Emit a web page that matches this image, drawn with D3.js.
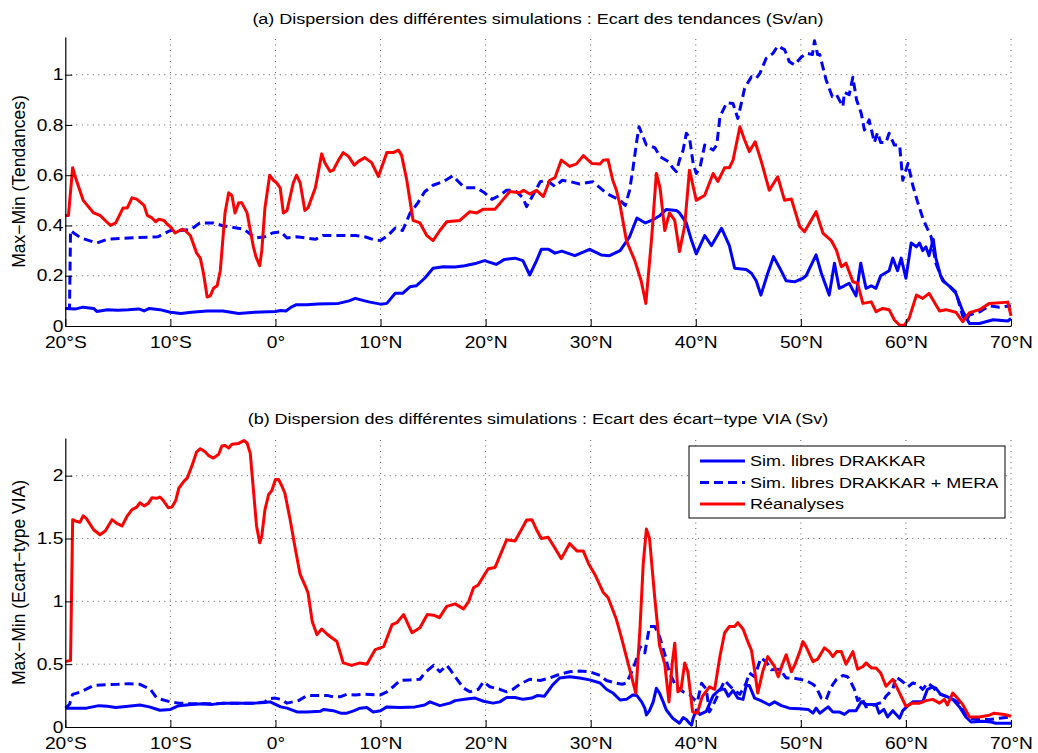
<!DOCTYPE html>
<html><head><meta charset="utf-8">
<script src="https://cdn.jsdelivr.net/npm/d3@7"></script>
<style>
html,body{margin:0;padding:0;background:#fff;}
text{font-family:"Liberation Sans",Arial,Helvetica,sans-serif;fill:#000;}
</style></head>
<body><svg id="c" width="1038" height="753"></svg>
<script>
// ---------- DATA ----------
const xTicks = [-20,-10,0,10,20,30,40,50,60,70];
const xTickLabels = ["20°S","10°S","0°","10°N","20°N","30°N","40°N","50°N","60°N","70°N"];
const yTicksA = [0,0.2,0.4,0.6,0.8,1];
const yTickLabelsA = ["0","0.2","0.4","0.6","0.8","1"];
const yTicksB = [0,0.5,1,1.5,2];
const yTickLabelsB = ["0","0.5","1","1.5","2"];
const seriesNames = ["Sim. libres DRAKKAR","Sim. libres DRAKKAR + MERA","Réanalyses"];
const titleA = "(a) Dispersion des différentes simulations : Ecart des tendances (Sv/an)";
const titleB = "(b) Dispersion des différentes simulations : Ecart des écart\u2212type VIA (Sv)";
const ylabelA = "Max\u2212Min (Tendances)";
const ylabelB = "Max\u2212Min (Ecart\u2212type VIA)";

// panel (a): [latitude, value]
const tendDrakkar = [[-20,0.07],[-19,0.068],[-18.3,0.075],[-17.3,0.07],[-17,0.058],[-16,0.065],[-15,0.063],[-14,0.065],[-13,0.068],[-12.5,0.06],[-12,0.07],[-11,0.065],[-10,0.055],[-9,0.05],[-8,0.055],[-6.5,0.06],[-5,0.06],[-3.5,0.05],[-2,0.055],[0,0.058],[0.5,0.062],[1,0.06],[1.5,0.075],[2,0.085],[3,0.085],[4,0.088],[6,0.09],[7,0.1],[7.6,0.11],[8.5,0.1],[9,0.095],[10,0.087],[10.6,0.09],[11.4,0.13],[12.1,0.13],[12.8,0.156],[13.4,0.16],[14.2,0.19],[15,0.23],[16,0.236],[17.1,0.235],[18,0.24],[19.15,0.25],[19.9,0.26],[21,0.245],[21.8,0.265],[22.8,0.27],[23.55,0.26],[24.2,0.203],[24.85,0.26],[25.3,0.305],[26,0.305],[26.6,0.29],[27.25,0.298],[28.5,0.28],[29.9,0.305],[31,0.283],[31.8,0.28],[32.8,0.3],[33.7,0.355],[34.4,0.43],[35.2,0.41],[35.8,0.42],[36.6,0.44],[37.2,0.464],[38.15,0.46],[38.45,0.45],[39.1,0.41],[39.6,0.34],[40.05,0.287],[40.85,0.36],[41.5,0.32],[42.45,0.389],[43.2,0.32],[43.7,0.23],[44.8,0.225],[45.3,0.21],[45.75,0.18],[46.2,0.123],[46.85,0.21],[47.4,0.276],[48,0.23],[48.6,0.18],[49.4,0.176],[50.2,0.19],[50.5,0.2],[51.45,0.283],[51.95,0.21],[52.7,0.123],[53.2,0.25],[53.65,0.15],[54.15,0.16],[54.6,0.17],[55.25,0.12],[55.7,0.25],[56.2,0.15],[56.7,0.16],[57.15,0.15],[57.6,0.2],[58.4,0.22],[58.75,0.27],[59.2,0.22],[59.55,0.27],[60,0.19],[60.5,0.33],[61,0.315],[61.3,0.33],[61.6,0.3],[61.9,0.315],[62.2,0.28],[62.6,0.345],[62.85,0.27],[63.3,0.2],[63.65,0.176],[64.1,0.16],[64.75,0.13],[65.4,0.06],[66.05,0.01],[67,0.01],[68.3,0.025],[69.7,0.02],[70,0.03]];
const tendMera = [[-20,0.07],[-19.6,0.07],[-19.5,0.38],[-19.2,0.37],[-18.5,0.35],[-17,0.33],[-16,0.345],[-14,0.35],[-11.2,0.355],[-10,0.38],[-9,0.38],[-8,0.385],[-7.2,0.41],[-5.9,0.41],[-5.1,0.4],[-3.7,0.39],[-3,0.385],[-1.9,0.35],[-1,0.355],[-0.3,0.37],[0.5,0.375],[1.1,0.35],[2,0.355],[3,0.35],[3.8,0.345],[4.5,0.36],[6,0.36],[7.6,0.36],[8.5,0.355],[9.45,0.342],[10,0.34],[10.7,0.36],[11.4,0.39],[12.1,0.38],[12.8,0.448],[13.55,0.49],[14.2,0.534],[15,0.56],[16,0.575],[16.9,0.598],[17.4,0.575],[18,0.55],[19.15,0.55],[19.9,0.53],[20.6,0.504],[21.35,0.52],[22,0.54],[22.8,0.54],[23.55,0.51],[23.9,0.475],[24.5,0.52],[25.2,0.574],[25.8,0.58],[26.6,0.555],[27.3,0.58],[28,0.575],[28.95,0.565],[30.2,0.574],[31.5,0.528],[32.8,0.5],[33.3,0.48],[33.7,0.54],[34,0.62],[34.4,0.74],[34.6,0.793],[35.3,0.72],[36.1,0.71],[36.6,0.674],[37.4,0.654],[37.8,0.63],[38.15,0.614],[38.45,0.66],[38.8,0.7],[39.1,0.767],[39.4,0.75],[39.75,0.647],[40.05,0.607],[40.4,0.63],[40.85,0.72],[41.65,0.7],[42,0.72],[42.3,0.833],[42.95,0.889],[43.55,0.885],[44,0.826],[44.3,0.88],[44.65,0.946],[45.3,0.992],[45.75,0.985],[46.1,1.005],[46.7,1.065],[47.35,1.085],[47.8,1.114],[48.45,1.1],[48.9,1.052],[49.4,1.039],[50.05,1.07],[50.6,1.085],[51.1,1.08],[51.3,1.135],[51.6,1.08],[51.8,1.08],[52.4,0.98],[53,0.912],[53.4,0.92],[54,0.873],[54.15,0.93],[54.6,0.92],[54.95,0.99],[55.3,0.9],[55.75,0.846],[56.05,0.78],[56.5,0.82],[57,0.73],[57.3,0.77],[57.6,0.73],[58.1,0.73],[58.4,0.767],[58.9,0.72],[59.4,0.72],[59.7,0.58],[60.2,0.647],[60.65,0.56],[61.1,0.495],[61.6,0.43],[61.9,0.4],[62.4,0.355],[62.85,0.25],[63.5,0.18],[64.1,0.16],[64.75,0.136],[65.4,0.04],[65.7,0.02],[66.05,0.044],[67,0.056],[67.95,0.08],[68.9,0.075],[69.85,0.08],[70,0.08]];
const tendReana = [[-20,0.44],[-19.7,0.44],[-19.3,0.63],[-19.1,0.6],[-18.3,0.5],[-17.3,0.45],[-16.7,0.44],[-15.7,0.4],[-15.2,0.41],[-14.5,0.47],[-14.1,0.47],[-13.65,0.51],[-13.2,0.505],[-12.5,0.48],[-12.2,0.44],[-11.75,0.43],[-11.4,0.415],[-11.1,0.425],[-10.6,0.42],[-10.3,0.405],[-10,0.395],[-9.55,0.37],[-8.9,0.385],[-8.6,0.38],[-8.1,0.36],[-7.5,0.29],[-7.15,0.27],[-6.85,0.21],[-6.5,0.115],[-6.2,0.12],[-5.9,0.15],[-5.55,0.16],[-5.25,0.22],[-4.8,0.45],[-4.45,0.53],[-4.15,0.52],[-3.85,0.45],[-3.5,0.49],[-3.2,0.49],[-2.7,0.45],[-2.1,0.315],[-1.85,0.275],[-1.5,0.24],[-1.3,0.3],[-1,0.47],[-0.55,0.6],[-0.2,0.58],[0.1,0.57],[0.45,0.55],[0.75,0.45],[1.1,0.46],[1.7,0.57],[2,0.6],[2.35,0.57],[2.8,0.46],[3.1,0.47],[3.8,0.55],[4.4,0.685],[4.7,0.65],[5.2,0.615],[5.5,0.62],[6,0.66],[6.45,0.69],[6.95,0.675],[7.5,0.64],[7.9,0.655],[8.5,0.67],[9.15,0.65],[9.8,0.595],[10.6,0.69],[11.2,0.69],[11.7,0.7],[12,0.68],[12.5,0.58],[13.1,0.42],[13.75,0.41],[14.4,0.36],[15,0.34],[15.65,0.38],[16.3,0.415],[17.55,0.42],[18.5,0.455],[19.15,0.45],[19.8,0.465],[20.9,0.465],[21.7,0.505],[22.3,0.535],[23.25,0.53],[23.6,0.54],[24.2,0.525],[24.85,0.54],[25.5,0.515],[26.1,0.58],[26.6,0.59],[27.2,0.66],[28,0.635],[28.65,0.645],[29.3,0.678],[30.1,0.647],[30.9,0.645],[31.2,0.66],[31.65,0.662],[32.1,0.58],[32.45,0.54],[32.8,0.48],[33.4,0.34],[34.2,0.26],[34.8,0.18],[35.25,0.09],[35.8,0.35],[36.25,0.607],[36.6,0.55],[37.05,0.38],[37.5,0.45],[38,0.42],[38.45,0.296],[38.95,0.4],[39.4,0.62],[40.05,0.5],[40.85,0.52],[41.65,0.607],[42.1,0.575],[42.75,0.63],[43.2,0.63],[43.55,0.66],[44.2,0.793],[44.65,0.74],[45.1,0.694],[45.65,0.733],[46.2,0.66],[47,0.54],[47.8,0.594],[48.45,0.5],[49.1,0.505],[49.9,0.395],[50.35,0.375],[51.45,0.455],[52.1,0.37],[52.9,0.34],[53.4,0.3],[53.85,0.236],[54.3,0.25],[54.95,0.176],[55.4,0.17],[55.9,0.09],[56.7,0.096],[57.15,0.057],[57.8,0.07],[58.4,0.065],[58.9,0.024],[59.4,0.003],[59.85,0.003],[60.3,0.03],[61,0.123],[61.6,0.11],[62.2,0.13],[63.2,0.06],[63.8,0.065],[64.75,0.055],[65.4,0.017],[66.05,0.053],[67,0.065],[67.95,0.09],[69.7,0.095],[70,0.04]];

// panel (b): [latitude, value]
const sdDrakkar = [[-20,0.15],[-19,0.15],[-18,0.15],[-16.8,0.17],[-16,0.165],[-15.2,0.155],[-14,0.165],[-12.9,0.175],[-12,0.16],[-11,0.133],[-10,0.14],[-9.2,0.17],[-8,0.18],[-7,0.185],[-6,0.18],[-5,0.19],[-3,0.19],[-2,0.19],[-1,0.195],[-0.5,0.2],[0,0.18],[0.5,0.16],[1.1,0.15],[2.05,0.12],[3,0.12],[4.25,0.125],[4.6,0.14],[5.5,0.13],[6.2,0.11],[6.8,0.11],[7.5,0.13],[8.05,0.15],[8.7,0.155],[9.3,0.12],[10,0.13],[10.6,0.16],[11.85,0.155],[13.3,0.16],[14.2,0.175],[14.7,0.2],[15.65,0.17],[16.6,0.19],[17.1,0.21],[18,0.22],[19,0.23],[19.8,0.205],[20.7,0.19],[21.35,0.2],[22,0.235],[22.8,0.235],[23.55,0.22],[24.4,0.23],[24.9,0.25],[25.6,0.245],[26.4,0.337],[27.05,0.39],[28,0.4],[28.95,0.39],[29.9,0.375],[30.9,0.35],[31.5,0.3],[32.15,0.268],[32.8,0.215],[33.4,0.22],[34,0.255],[34.4,0.25],[34.85,0.2],[35.15,0.15],[35.3,0.096],[35.6,0.13],[35.95,0.2],[36.25,0.308],[36.55,0.27],[36.9,0.2],[37.2,0.135],[37.8,0.07],[38.45,0.03],[38.8,0.075],[39.1,0.06],[39.4,0.03],[39.6,0.015],[39.75,0.07],[40.05,0.135],[40.4,0.1],[41,0.125],[41.65,0.25],[42.3,0.3],[42.75,0.3],[43.1,0.245],[43.55,0.29],[44,0.23],[44.5,0.22],[44.8,0.33],[45.1,0.33],[45.6,0.23],[46.2,0.21],[47,0.175],[47.5,0.2],[48.15,0.17],[48.9,0.15],[49.9,0.145],[50.7,0.14],[51.15,0.11],[51.45,0.15],[51.8,0.11],[52.6,0.16],[53.05,0.12],[53.65,0.12],[54.15,0.1],[54.6,0.13],[55.25,0.13],[55.75,0.2],[56.2,0.18],[56.85,0.18],[57.15,0.18],[57.45,0.11],[57.9,0.14],[58.25,0.08],[58.75,0.13],[59.4,0.07],[59.7,0.13],[60.2,0.17],[60.65,0.2],[61.1,0.2],[61.6,0.2],[62.05,0.3],[62.55,0.32],[62.85,0.31],[63.3,0.26],[63.8,0.245],[64.45,0.22],[65.1,0.16],[65.7,0.08],[66.2,0.04],[67.3,0.045],[68.1,0.04],[68.55,0.03],[70,0.03]];
const sdMera = [[-20,0.15],[-19.6,0.18],[-19.3,0.26],[-18.5,0.28],[-17.3,0.33],[-16,0.337],[-15,0.34],[-14,0.345],[-12.9,0.34],[-11.9,0.3],[-11.3,0.23],[-10,0.2],[-9.2,0.19],[-8,0.185],[-6,0.185],[-4,0.19],[-2,0.19],[-1,0.2],[-0.65,0.225],[0,0.23],[0.5,0.22],[1.1,0.19],[2.2,0.21],[3,0.25],[4,0.25],[5,0.25],[5.5,0.24],[6.15,0.24],[6.8,0.26],[7.6,0.255],[8.5,0.26],[10,0.255],[10.6,0.28],[11.2,0.32],[11.85,0.37],[12.8,0.375],[13.75,0.38],[14.2,0.43],[15.05,0.49],[15.65,0.44],[16.3,0.49],[16.6,0.46],[17.1,0.4],[17.9,0.31],[18.5,0.28],[19.3,0.3],[19.8,0.36],[20.4,0.32],[21.35,0.3],[22,0.28],[22.6,0.3],[23.25,0.34],[24.2,0.38],[25.2,0.37],[26.1,0.39],[27.05,0.42],[28,0.44],[28.95,0.445],[29.9,0.44],[30.9,0.41],[31.5,0.37],[32.4,0.35],[33,0.34],[33.4,0.35],[34,0.455],[34.4,0.55],[34.7,0.64],[35.15,0.59],[35.6,0.8],[36.1,0.8],[36.55,0.72],[37.05,0.58],[37.5,0.43],[38.15,0.32],[38.8,0.28],[39.4,0.26],[39.9,0.215],[40.15,0.2],[40.55,0.348],[41,0.3],[41.3,0.12],[41.8,0.2],[42.3,0.29],[42.75,0.37],[43.55,0.3],[44.2,0.26],[44.8,0.35],[45.1,0.43],[45.6,0.4],[46.2,0.55],[46.7,0.52],[47.2,0.455],[48,0.46],[48.6,0.39],[49.2,0.39],[49.9,0.38],[50.5,0.37],[51.15,0.34],[51.45,0.32],[51.95,0.23],[52.4,0.215],[52.7,0.28],[53.05,0.34],[53.4,0.38],[54,0.41],[54.45,0.4],[54.8,0.35],[55.1,0.3],[55.4,0.21],[55.75,0.24],[56.2,0.16],[57,0.175],[57.8,0.2],[58.1,0.245],[58.75,0.3],[59.05,0.4],[59.7,0.36],[60.2,0.32],[60.65,0.35],[61.1,0.34],[61.6,0.3],[62.05,0.35],[62.55,0.32],[63,0.27],[63.65,0.25],[64.45,0.22],[64.9,0.2],[65.4,0.14],[66.05,0.07],[67,0.06],[67.95,0.06],[68.9,0.07],[70,0.08]];
const sdReana = [[-20,0.52],[-19.5,0.53],[-19.3,1.65],[-19.05,1.64],[-18.6,1.63],[-18.3,1.68],[-18,1.66],[-17.3,1.57],[-16.7,1.53],[-16.2,1.56],[-15.55,1.65],[-15.1,1.62],[-14.6,1.6],[-14.1,1.68],[-13.65,1.73],[-13.2,1.75],[-12.9,1.785],[-12.5,1.76],[-12.1,1.78],[-11.75,1.825],[-11.3,1.82],[-11,1.83],[-10.65,1.8],[-10.2,1.745],[-9.85,1.75],[-9.5,1.8],[-9.2,1.9],[-8.7,1.957],[-8.4,1.98],[-7.9,2.09],[-7.5,2.19],[-7.15,2.215],[-6.7,2.19],[-6.35,2.16],[-5.9,2.14],[-5.4,2.17],[-5.1,2.236],[-4.8,2.24],[-4.45,2.22],[-4.15,2.25],[-3.5,2.257],[-3,2.28],[-2.7,2.26],[-2.4,2.18],[-2.1,1.89],[-1.8,1.6],[-1.5,1.466],[-1.3,1.52],[-1,1.73],[-0.65,1.85],[-0.35,1.88],[0,1.97],[0.3,1.97],[0.6,1.92],[0.9,1.86],[1.4,1.65],[1.9,1.413],[2.35,1.214],[2.8,1.13],[3.1,1.068],[3.5,0.84],[3.95,0.735],[4.4,0.78],[4.9,0.74],[5.2,0.72],[5.85,0.68],[6.45,0.51],[7.25,0.49],[8.05,0.51],[8.7,0.5],[9.5,0.616],[10.3,0.64],[11.1,0.815],[11.55,0.83],[12.2,0.895],[13,0.75],[13.75,0.79],[14.45,0.895],[15.05,0.89],[15.6,0.87],[16.3,0.96],[17.1,0.98],[17.9,0.94],[18.4,1],[18.85,1.108],[19.3,1.13],[19.8,1.2],[20.25,1.26],[20.9,1.27],[21.35,1.36],[22,1.49],[22.8,1.48],[23.4,1.57],[23.9,1.647],[24.4,1.65],[24.85,1.57],[25.3,1.5],[25.95,1.51],[26.4,1.45],[27.2,1.34],[28,1.46],[28.7,1.4],[29.3,1.4],[29.8,1.3],[30.4,1.214],[31.2,1.07],[31.65,1.03],[32.45,0.855],[32.9,0.72],[33.55,0.51],[34.3,0.268],[34.7,0.8],[35,1.3],[35.3,1.575],[35.6,1.5],[36.1,1.025],[36.55,0.65],[37.05,0.5],[37.45,0.2],[37.75,0.5],[38,0.667],[38.3,0.28],[38.6,0.3],[38.95,0.51],[39.25,0.44],[39.7,0.12],[40.15,0.11],[40.6,0.24],[41.3,0.32],[41.8,0.3],[42.3,0.563],[42.75,0.75],[43.2,0.8],[43.7,0.8],[44,0.83],[44.5,0.78],[44.95,0.68],[45.3,0.61],[45.6,0.45],[45.9,0.27],[46.4,0.45],[46.85,0.56],[47.5,0.48],[47.85,0.4],[48.25,0.5],[48.6,0.575],[49.1,0.44],[49.4,0.49],[49.9,0.6],[50.2,0.68],[50.5,0.64],[51.15,0.52],[51.6,0.54],[52.25,0.63],[52.7,0.6],[53.05,0.56],[53.4,0.6],[53.85,0.6],[54.3,0.5],[54.95,0.6],[55.4,0.46],[55.9,0.48],[56.2,0.51],[56.7,0.47],[57.15,0.47],[57.6,0.43],[58.1,0.324],[58.75,0.38],[59.4,0.27],[60,0.165],[60.65,0.19],[61.3,0.19],[61.9,0.21],[62.55,0.22],[63.2,0.19],[63.65,0.22],[63.95,0.175],[64.45,0.27],[64.9,0.23],[65.4,0.18],[66.05,0.08],[67,0.08],[67.95,0.094],[68.4,0.11],[69.35,0.1],[70,0.085]];

// ---------- DRAWING ----------
const svg = d3.select("#c");
svg.append("rect").attr("width",1038).attr("height",753).attr("fill","#fff");
const SX = 1.2; // horizontal text stretch of the reference
const FONT = '"Liberation Sans",Arial,Helvetica,sans-serif';
const styles = [
  {color:"#0000ff", dash:null},
  {color:"#0000ff", dash:"9,5"},
  {color:"#ff0000", dash:null}
];
const x = d3.scaleLinear().domain([-20,70]).range([65.3,1011]);

function stretch(sel, s){
  sel.each(function(){
    const t = d3.select(this);
    const ax = +t.attr("x") || 0, ay = +t.attr("y") || 0;
    t.attr("transform", `translate(${ax},${ay}) scale(${s},1) translate(${-ax},${-ay})`);
  });
}

function panel(opt){
  const y = d3.scaleLinear().domain([0,opt.ymax]).range([opt.bottom,opt.top]);
  const g = svg.append("g");
  // grid
  const grid = g.append("g").attr("stroke","#333").attr("stroke-width",0.8).attr("stroke-dasharray","1,4.5");
  grid.selectAll("line.vx").data(xTicks.filter(d=>d>-20)).join("line")
    .attr("x1",d=>x(d)).attr("x2",d=>x(d)).attr("y1",y(0)).attr("y2",y(opt.ymax));
  grid.selectAll("line.hy").data(opt.yTicks.filter(d=>d>0)).join("line")
    .attr("x1",x(-20)).attr("x2",x(70)).attr("y1",d=>y(d)).attr("y2",d=>y(d));

  // lines
  const line = d3.line().x(d=>x(d[0])).y(d=>y(d[1]));
  opt.series.forEach((s,i)=>{
    g.append("path").datum(s).attr("d",line).attr("fill","none")
      .attr("stroke",styles[i].color).attr("stroke-width",3)
      .attr("stroke-linejoin","round")
      .attr("stroke-dasharray",styles[i].dash);
  });

  // axes
  const xa = g.append("g").attr("transform",`translate(0,${opt.bottom})`)
    .call(d3.axisBottom(x).tickValues(xTicks).tickFormat((d,i)=>xTickLabels[i]).tickSizeInner(-7).tickSizeOuter(0));
  xa.select(".domain").attr("stroke","#000").attr("stroke-width",1.2);
  xa.selectAll(".tick line").attr("stroke","#000");
  xa.selectAll(".tick text").attr("y",opt.xlabOff).attr("dy",null)
    .style("font-family",FONT).style("font-size","16px");
  xa.attr("font-size",null).attr("font-family",null);
  stretch(xa.selectAll(".tick text"), SX);

  const ya = g.append("g").attr("transform",`translate(${x(-20)},0)`)
    .call(d3.axisLeft(y).tickValues(opt.yTicks).tickFormat((d,i)=>opt.yLabels[i]).tickSizeInner(-7).tickSizeOuter(0));
  ya.select(".domain").attr("stroke","#000").attr("stroke-width",1.2);
  ya.selectAll(".tick line").attr("stroke","#000");
  ya.selectAll(".tick text").attr("x",-2).attr("dy","0.32em")
    .style("font-family",FONT).style("font-size","16px");
  ya.attr("font-size",null).attr("font-family",null);
  stretch(ya.selectAll(".tick text"), SX);

  // title
  const t = svg.append("text").attr("x",538).attr("y",opt.titleY)
    .attr("text-anchor","middle").style("font-size","15px").text(opt.title);
  stretch(t, SX);
  // y label
  svg.append("text").attr("transform",`translate(25,${(opt.top+opt.bottom)/2}) rotate(-90)`)
    .attr("text-anchor","middle").style("font-size","17.5px").text(opt.ylabel);
  return {g,y};
}

panel({top:37,bottom:326,ymax:1.15,yTicks:yTicksA,yLabels:yTickLabelsA,
  series:[tendDrakkar,tendMera,tendReana],title:titleA,titleY:24,ylabel:ylabelA,xlabOff:22.5});
panel({top:438,bottom:727,ymax:2.3,yTicks:yTicksB,yLabels:yTickLabelsB,
  series:[sdDrakkar,sdMera,sdReana],title:titleB,titleY:424,ylabel:ylabelB,xlabOff:22.5});

// legend
const lg = svg.append("g");
lg.append("rect").attr("x",689).attr("y",446).attr("width",316).attr("height",72)
  .attr("fill","#fff").attr("stroke","#000").attr("stroke-width",1);
const rowY = d3.scalePoint().domain(seriesNames).range([461,504]);
seriesNames.forEach((n,i)=>{
  lg.append("line").attr("x1",700).attr("x2",745).attr("y1",rowY(n)).attr("y2",rowY(n))
    .attr("stroke",styles[i].color).attr("stroke-width",3).attr("stroke-dasharray",styles[i].dash);
  const tx = lg.append("text").attr("x",750).attr("y",rowY(n)).attr("dy","0.36em")
    .style("font-size","15px").text(n);
  stretch(tx, SX);
});
</script></body></html>
